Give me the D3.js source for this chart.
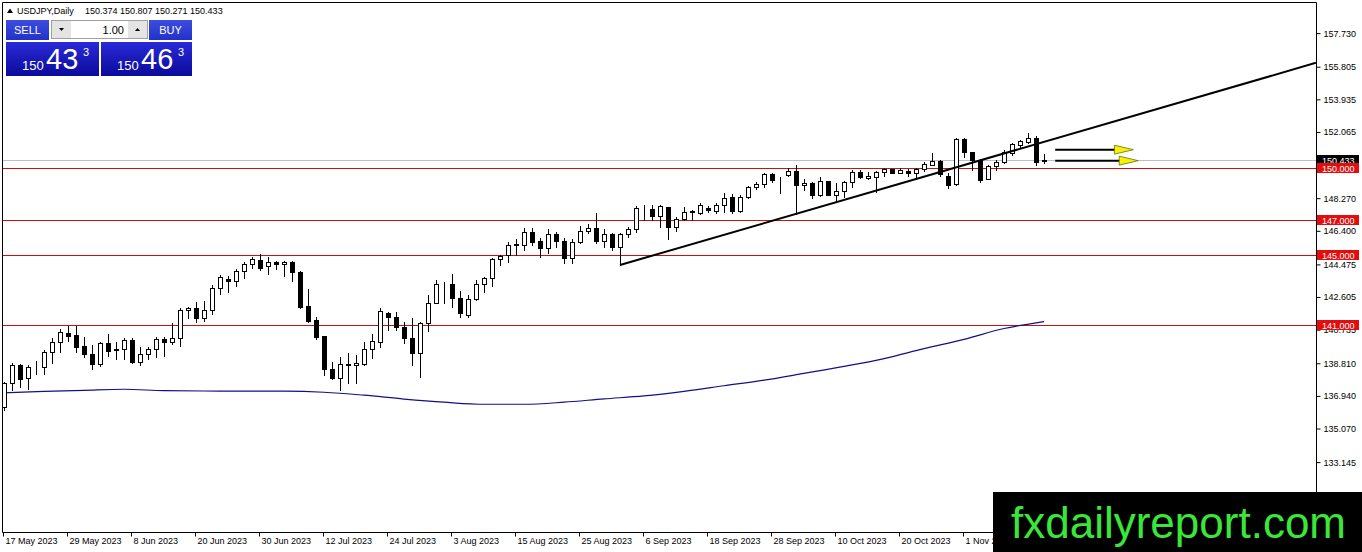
<!DOCTYPE html>
<html>
<head>
<meta charset="utf-8">
<script src="https://cdnjs.cloudflare.com/ajax/libs/d3/7.8.5/d3.min.js"></script>
<style>
 body { margin: 0; background: #fff; }
 svg { display: block; font-family: "Liberation Sans", Arial, sans-serif; }
</style>
</head>
<body>
<svg id="chart" width="1362" height="552"></svg>
<script>
// USDJPY daily candles, 17 May 2023 .. 15 Nov 2023
const opens = [
  136.30,137.68,138.71,137.97,138.58,138.60,139.44,140.05,140.57,140.43,
  139.80,139.32,138.75,139.95,139.58,139.61,140.14,138.90,139.33,139.61,
  140.20,140.05,140.24,141.86,141.96,141.42,141.86,143.10,143.62,143.52,
  144.10,144.48,144.73,144.38,144.63,144.50,144.63,144.02,142.09,141.29,
  140.37,138.46,137.98,138.78,138.69,138.77,139.61,140.05,141.67,141.44,
  140.91,140.24,139.42,141.14,142.24,143.33,143.33,142.53,141.58,142.47,
  143.33,143.71,144.77,145.01,145.60,145.59,146.31,145.82,145.40,146.20,
  145.84,144.82,145.78,146.41,146.54,145.84,146.20,145.49,146.20,146.48,
  147.69,147.63,147.27,147.74,146.60,147.06,147.50,147.44,147.69,147.55,
  147.88,148.36,147.53,148.36,148.89,149.06,149.64,149.31,149.60,149.85,
  149.00,149.12,148.45,149.25,148.45,148.70,149.18,149.79,149.41,149.50,
  149.79,149.92,149.73,149.85,149.69,149.92,150.19,150.40,149.55,149.06,
  151.66,150.90,150.46,149.35,150.12,150.32,150.84,151.32,151.51,151.74,
  150.374
];
const highs = [
  137.75,138.83,138.77,138.72,138.92,139.57,140.24,140.76,140.94,140.94,
  140.33,139.86,140.05,140.47,140.00,140.24,140.24,139.73,139.76,140.30,
  140.30,141.10,141.96,142.05,142.34,142.40,143.30,143.87,143.81,144.20,
  144.63,144.88,145.07,144.92,144.69,144.69,144.69,144.10,143.05,141.48,
  140.37,138.90,139.19,139.38,139.28,140.05,140.49,142.00,141.77,141.73,
  141.15,141.38,141.19,142.72,143.58,143.49,143.93,142.97,142.72,143.58,
  143.77,144.82,145.01,145.78,145.91,146.54,146.54,145.97,146.48,146.35,
  145.97,145.91,146.68,146.77,147.44,146.48,146.26,146.26,146.64,147.82,
  147.88,147.88,147.88,147.78,147.21,147.74,147.59,148.01,147.82,147.97,
  148.55,148.51,148.45,148.97,149.22,149.73,149.69,149.46,149.98,150.17,
  149.35,149.18,149.50,149.27,149.16,149.27,149.88,149.88,149.79,149.85,
  149.98,149.94,149.98,149.94,149.98,150.36,150.84,150.46,149.69,151.72,
  151.72,150.94,150.50,150.17,150.46,151.03,151.45,151.60,151.99,151.83,
  150.807
];
const lows = [
  136.13,137.28,137.45,137.33,138.20,138.20,138.81,139.47,140.10,139.47,
  139.15,138.46,138.65,139.23,139.05,139.04,138.81,138.71,139.04,139.15,
  139.23,139.91,139.80,141.39,141.19,141.23,141.63,142.76,142.91,143.24,
  143.68,144.25,144.15,143.92,144.19,143.82,143.54,142.00,141.20,140.18,
  138.14,137.90,137.28,137.66,137.66,138.70,139.09,139.76,140.72,140.72,
  139.95,138.71,138.04,140.68,142.24,142.24,142.05,141.48,141.48,142.43,
  142.91,143.24,144.44,144.63,145.01,145.30,145.59,144.92,145.15,145.49,
  144.54,144.54,145.68,146.29,145.68,145.49,145.30,144.44,146.06,146.35,
  147.02,147.02,146.64,145.91,146.39,147.02,147.02,147.36,147.50,147.44,
  147.50,147.40,147.50,148.26,148.78,148.93,149.22,148.55,149.54,147.37,
  148.74,148.26,148.39,148.45,148.07,148.36,148.93,149.41,149.35,148.64,
  149.54,149.69,149.69,149.54,149.35,149.85,150.17,149.54,148.84,149.03,
  150.65,149.90,149.22,149.35,149.90,150.27,150.74,151.22,151.45,150.17,
  150.271
];
const closes = [
  137.68,138.71,137.90,138.60,138.62,139.45,140.05,140.62,140.40,139.76,
  139.32,138.75,139.95,139.53,139.65,140.14,138.90,139.32,139.61,140.20,
  140.05,140.24,141.86,141.99,141.42,141.86,143.10,143.73,143.52,144.10,
  144.48,144.77,144.25,144.63,144.50,144.63,144.02,142.05,141.25,140.33,
  138.46,137.98,138.75,138.72,138.81,139.61,140.09,141.80,141.44,140.87,
  140.24,139.42,141.14,142.24,143.33,143.35,142.53,141.71,142.47,143.33,
  143.71,144.77,144.96,145.59,145.64,146.31,145.78,145.40,146.20,145.84,
  144.82,145.78,146.41,146.54,145.84,146.20,145.49,146.20,146.48,147.69,
  147.72,147.27,147.82,146.60,147.06,147.50,147.52,147.88,147.59,147.88,
  148.30,147.53,148.36,148.89,149.06,149.64,149.31,149.33,149.85,149.02,
  149.16,148.45,149.27,148.45,148.70,149.18,149.79,149.50,149.56,149.79,
  149.92,149.73,149.88,149.69,149.92,150.23,150.38,149.67,149.03,151.66,
  150.90,150.46,149.31,150.12,150.32,150.90,151.38,151.55,151.70,150.36,
  150.433
];

// moving average (navy line), sampled every 5 bars
const maBars   = [0,5,10,15,20,25,30,35,40,45,50,55,60,65,70,75,80,85,90,95,100,105,110,115,120,125,130];
const maValues = [137.11,137.20,137.26,137.32,137.24,137.22,137.21,137.21,137.15,136.98,136.76,136.58,136.46,136.46,
                  136.58,136.77,136.94,137.20,137.52,137.84,138.23,138.63,139.08,139.65,140.18,140.80,141.20];

const levels = [150, 147, 145, 141];
const bid = 150.433;
const trendBars = [77, 99];
const trendPrices = [144.44, 147.37];
const arrowPrices = [151.05, 150.42];

const priceTicks = [157.730,155.805,153.935,152.065,148.270,146.400,144.475,142.605,140.735,138.810,136.940,135.070,133.145];
const dateBars = [0,8,16,24,32,40,48,56,64,72,80,88,96,104,112,120];
const dateLabels = ["17 May 2023","29 May 2023","8 Jun 2023","20 Jun 2023","30 Jun 2023","12 Jul 2023","24 Jul 2023",
  "3 Aug 2023","15 Aug 2023","25 Aug 2023","6 Sep 2023","18 Sep 2023","28 Sep 2023","10 Oct 2023","20 Oct 2023",
  "1 Nov 2023"];

const W = 1362, H = 552;
const pLeft = 2, pTop = 2, pRight = 1316, pBottom = 532;

const x = d3.scaleLinear().domain([0, 164]).range([4, 1316]);
const y = d3.scaleLinear().domain([129.14, 159.513]).range([pBottom, pTop]);

const svg = d3.select('#chart');

svg.append('rect').attr('width', W).attr('height', H).attr('fill', '#fff');

svg.append('clipPath').attr('id', 'plot')
   .append('rect').attr('x', pLeft + 1).attr('y', pTop + 1)
   .attr('width', pRight - pLeft - 1).attr('height', pBottom - pTop - 1);

const plot = svg.append('g').attr('clip-path', 'url(#plot)');

// horizontal support levels
plot.selectAll('.level').data(levels).enter()
    .append('line')
    .attr('class', 'level')
    .attr('x1', pLeft).attr('x2', pRight)
    .attr('y1', d => Math.round(y(d)) + 0.5).attr('y2', d => Math.round(y(d)) + 0.5)
    .attr('stroke', '#cc1010').attr('stroke-width', 1);

// bid line
plot.append('line')
    .attr('x1', pLeft).attr('x2', pRight)
    .attr('y1', Math.round(y(bid)) + 0.5).attr('y2', Math.round(y(bid)) + 0.5)
    .attr('stroke', '#c0c0c0');

// moving average
const maLine = d3.line()
  .x((d, i) => x(maBars[i]))
  .y(d => y(d))
  .curve(d3.curveMonotoneX);
plot.append('path')
    .datum(maValues)
    .attr('d', maLine)
    .attr('fill', 'none')
    .attr('stroke', '#10108a')
    .attr('stroke-width', 1.2);

// candles
const bars = d3.range(closes.length).map(i => ({ i, o: opens[i], h: highs[i], l: lows[i], c: closes[i] }));
const candle = plot.selectAll('.candle').data(bars).enter()
    .append('g').attr('class', 'candle');

candle.append('line')
    .attr('x1', d => Math.round(x(d.i)) + 0.5)
    .attr('x2', d => Math.round(x(d.i)) + 0.5)
    .attr('y1', d => Math.round(y(d.h)))
    .attr('y2', d => Math.round(y(d.l)) + 1)
    .attr('stroke', '#000');

candle.append('rect')
    .attr('x', d => Math.round(x(d.i)) - 1.5)
    .attr('y', d => Math.round(y(Math.max(d.o, d.c))) + 0.5)
    .attr('width', 4)
    .attr('height', d => Math.max(0, Math.round(y(Math.min(d.o, d.c))) - Math.round(y(Math.max(d.o, d.c)))))
    .attr('fill', d => d.c >= d.o ? '#fff' : '#000')
    .attr('stroke', '#000');

// trend line (ray to the right)
const slope = (trendPrices[1] - trendPrices[0]) / (trendBars[1] - trendBars[0]);
const endBar = x.invert(pRight);
plot.append('line')
    .attr('x1', x(trendBars[0])).attr('y1', y(trendPrices[0]))
    .attr('x2', x(endBar)).attr('y2', y(trendPrices[0] + slope * (endBar - trendBars[0])))
    .attr('stroke', '#000').attr('stroke-width', 2);

// arrows
const arrows = plot.selectAll('.arrow').data(arrowPrices).enter()
    .append('g').attr('class', 'arrow');
arrows.append('line')
    .attr('x1', x(131.4))
    .attr('x2', (d, i) => x(i ? 139.5 : 138.9))
    .attr('y1', d => y(d)).attr('y2', d => y(d))
    .attr('stroke', '#000').attr('stroke-width', 2);
arrows.append('path')
    .attr('d', (d, i) => {
      const x0 = x(i ? 139.4 : 138.8), x1 = x0 + 19, yy = y(d);
      return `M${x0},${yy - 4.5}L${x1},${yy}L${x0},${yy + 4.5}Z`;
    })
    .attr('fill', '#f2f20a').attr('stroke', '#6d6d00').attr('stroke-width', 0.8);

// frame
svg.append('path')
   .attr('d', `M${pLeft + 0.5},${pTop + 0.5}H${pRight + 0.5}V${pBottom + 0.5}H${pLeft + 0.5}Z`)
   .attr('fill', 'none').attr('stroke', '#000');

// price axis
const yAxis = d3.axisRight(y)
    .tickValues(priceTicks)
    .tickFormat(d3.format('.3f'))
    .tickSize(4).tickPadding(3).tickSizeOuter(0);
const gy = svg.append('g')
    .attr('transform', `translate(${pRight + 0.5},0)`)
    .call(yAxis);
gy.select('.domain').remove();
gy.selectAll('text').attr('font-size', 9).attr('fill', '#000').attr('font-family', '"Liberation Sans", Arial, sans-serif');

// date axis
const xAxis = d3.axisBottom(x)
    .tickValues(dateBars)
    .tickFormat((d, i) => dateLabels[i])
    .tickSize(4).tickPadding(1).tickSizeOuter(0);
const gx = svg.append('g')
    .attr('transform', `translate(-1,${pBottom + 0.5})`)
    .call(xAxis);
gx.select('.domain').remove();
gx.selectAll('text').attr('font-size', 9).attr('fill', '#000')
  .attr('text-anchor', 'start').attr('x', 2)
  .attr('font-family', '"Liberation Sans", Arial, sans-serif');

// right side price labels
const tags = [{ p: bid, bg: '#000' }].concat(levels.map(p => ({ p, bg: '#e30d0d' })));
const tag = svg.selectAll('.tag').data(tags).enter().append('g').attr('class', 'tag');
tag.append('rect')
   .attr('x', pRight + 1).attr('y', d => Math.round(y(d.p)) - 5)
   .attr('width', 42).attr('height', 10)
   .attr('fill', d => d.bg);
tag.append('text')
   .attr('x', pRight + 6).attr('y', d => Math.round(y(d.p)) + 3.5)
   .attr('font-size', 9).attr('fill', '#fff')
   .text(d => d3.format('.3f')(d.p));

// header
svg.append('path').attr('d', 'M7,13L10,8.5L13,13Z').attr('fill', '#000');
svg.append('text').attr('x', 17).attr('y', 14).attr('font-size', 9).text('USDJPY,Daily');
svg.append('text').attr('x', 85).attr('y', 14).attr('font-size', 9)
   .text([opens, highs, lows, closes].map(a => a[a.length - 1].toFixed(3)).join(' '));

// one click trading panel
const defs = svg.append('defs');
const grad = defs.append('linearGradient').attr('id', 'pbox').attr('x1', 0).attr('y1', 0).attr('x2', 0).attr('y2', 1);
grad.append('stop').attr('offset', 0).attr('stop-color', '#2a2ad8');
grad.append('stop').attr('offset', 1).attr('stop-color', '#0a0a9c');
const gradB = defs.append('linearGradient').attr('id', 'pbtn').attr('x1', 0).attr('y1', 0).attr('x2', 0).attr('y2', 1);
gradB.append('stop').attr('offset', 0).attr('stop-color', '#3d4de0');
gradB.append('stop').attr('offset', 1).attr('stop-color', '#2231c8');

const panel = svg.append('g');
[[6, 'SELL'], [149, 'BUY']].forEach(([bx, label]) => {
  panel.append('rect').attr('x', bx).attr('y', 20).attr('width', 43).attr('height', 20)
       .attr('fill', 'url(#pbtn)');
  panel.append('text').attr('x', bx + 21.5).attr('y', 34).attr('text-anchor', 'middle')
       .attr('font-size', 11).attr('fill', '#fff').text(label);
});
panel.append('rect').attr('x', 51.5).attr('y', 20.5).attr('width', 96).attr('height', 18)
     .attr('fill', '#fff').attr('stroke', '#a0a0a0');
panel.append('rect').attr('x', 52).attr('y', 21).attr('width', 19).attr('height', 17).attr('fill', '#e4e4e4');
panel.append('rect').attr('x', 128).attr('y', 21).attr('width', 19).attr('height', 17).attr('fill', '#e4e4e4');
panel.append('path').attr('d', 'M59,28L64,28L61.5,31Z').attr('fill', '#000');
panel.append('path').attr('d', 'M135,31L140,31L137.5,28Z').attr('fill', '#000');
panel.append('text').attr('x', 124).attr('y', 34).attr('text-anchor', 'end').attr('font-size', 11).text('1.00');

[[6, '43'], [101, '46']].forEach(([bx, big]) => {
  panel.append('rect').attr('x', bx).attr('y', 42).attr('width', bx === 6 ? 93 : 91).attr('height', 34)
       .attr('fill', 'url(#pbox)');
  panel.append('text').attr('x', bx + 16).attr('y', 70).attr('font-size', 13).attr('fill', '#fff').text('150');
  panel.append('text').attr('x', bx + 40).attr('y', 69).attr('font-size', 29).attr('fill', '#fff').text(big);
  panel.append('text').attr('x', bx + 77).attr('y', 56).attr('font-size', 11).attr('fill', '#fff').text('3');
});

// watermark
svg.append('rect').attr('x', 993).attr('y', 492).attr('width', 369).attr('height', 60).attr('fill', '#000');
svg.append('text').attr('x', 1011).attr('y', 538)
   .attr('font-size', 44).attr('fill', '#3be63b')
   .attr('font-family', '"Liberation Sans", Arial, sans-serif')
   .text('fxdailyreport.com');
</script>
</body>
</html>
